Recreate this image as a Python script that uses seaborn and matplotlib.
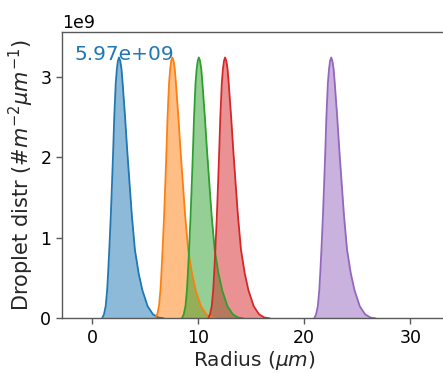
import numpy as np
import pandas as pd
import matplotlib
matplotlib.use("Agg")
import matplotlib.pyplot as plt
import seaborn as sns

# Peak radii (um) of the five droplet distributions
modes = [2.52, 7.55, 10.05, 12.53, 22.54]
series_names = ["d1", "d2", "d3", "d4", "d5"]
# Shared distribution profile: offset from the mode (um)
profile_offset = [-1.60, -1.42, -1.26, -1.12, -1.03, -0.92, -0.78, -0.66, -0.55,
                  -0.45, -0.31, -0.20, -0.10, 0.0, 0.11, 0.23, 0.34, 0.57,
                  0.77, 0.99, 1.22, 1.50, 1.85, 2.20, 2.70, 3.20, 3.70, 4.20]
# ... and height (1e9 #/m2/um)
profile_height = [0.00, 0.05, 0.15, 0.35, 0.56, 0.85, 1.26, 1.68, 2.09,
                  2.50, 2.92, 3.10, 3.20, 3.24, 3.20, 3.10, 2.92, 2.50,
                  2.09, 1.68, 1.26, 0.85, 0.56, 0.35, 0.15, 0.05, 0.01, 0.00]
annotation = "5.97e+09"

rows = []
for name, m in zip(series_names, modes):
    for o, h in zip(profile_offset, profile_height):
        rows.append({"series": name, "radius": m + o, "n": h * 1e9})
df = pd.DataFrame(rows)

sns.set_style("ticks")
plt.rcParams["font.family"] = ["DejaVu Sans"]
plt.rcParams["axes.edgecolor"] = "0.35"
plt.rcParams["xtick.color"] = "0.35"
plt.rcParams["ytick.color"] = "0.35"
plt.rcParams["xtick.labelcolor"] = "black"
plt.rcParams["ytick.labelcolor"] = "black"

fig = plt.figure(figsize=(4.43, 3.73), dpi=100)
ax = fig.add_axes([61.7 / 443, 54.7 / 373, (447.3 - 61.7) / 443, 286.6 / 373])

palette = sns.color_palette("tab10", 5)
for i, name in enumerate(series_names):
    sub = df[df["series"] == name]
    ax.fill_between(sub["radius"], 0, sub["n"], color=palette[i], alpha=0.5, lw=0)
    sns.lineplot(data=sub, x="radius", y="n", color=palette[i], lw=1.3, ax=ax,
                 sort=False, legend=False)

ax.set_xlim(-2.89, 33.5)
ax.set_ylim(0, 3.56e9)
ax.set_xticks([0, 10, 20, 30])
ax.set_yticks([0, 1e9, 2e9, 3e9])
ax.tick_params(labelsize=12.5, width=1.0, length=4)
for s in ax.spines.values():
    s.set_linewidth(1.0)
ax.yaxis.get_offset_text().set_fontsize(12.5)
ax.set_xlabel(r"Radius ($\mu m$)", fontsize=14.5, labelpad=2)
ax.set_ylabel(r"Droplet distr (#$m^{-2}\mu m^{-1}$)", fontsize=15, labelpad=3)
ax.text(0.033, 0.955, annotation, transform=ax.transAxes, color=palette[0],
        fontsize=14.5, va="top", ha="left")

fig.savefig("out.png", dpi=100)
